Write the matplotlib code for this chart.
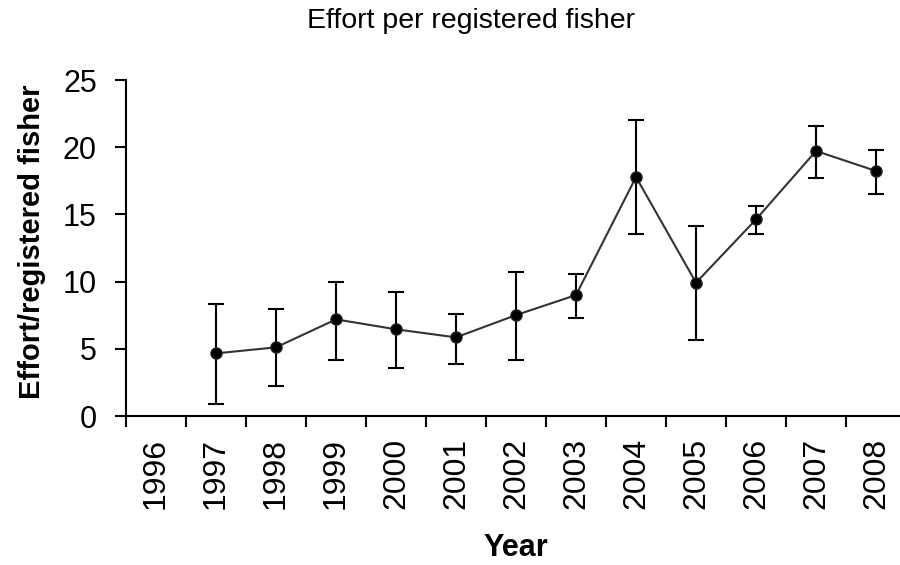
import numpy as np
import matplotlib.pyplot as plt

plt.rcParams['font.family'] = ['Liberation Sans', 'DejaVu Sans']

# Data
years = ['1996', '1997', '1998', '1999', '2000', '2001', '2002',
         '2003', '2004', '2005', '2006', '2007', '2008']
effort = [np.nan, 4.66, 5.11, 7.19, 6.45, 5.85, 7.51, 9.0, 17.78, 9.92, 14.63, 19.72, 18.23]
err_low = [np.nan, 0.92, 2.23, 4.17, 3.57, 3.89, 4.17, 7.32, 13.54, 5.65, 13.54, 17.71, 16.52]
err_high = [np.nan, 8.33, 7.94, 9.99, 9.23, 7.59, 10.71, 10.56, 22.0, 14.14, 15.63, 21.58, 19.79]

x = np.arange(len(years))
y = np.array(effort)
yerr = [y - np.array(err_low), np.array(err_high) - y]

fig = plt.figure(figsize=(9, 5.65), dpi=100)
ax = fig.add_axes([0.14, 0.2637, 0.8667, 0.5947])

ax.plot(x, y, color='#333333', lw=1.5, zorder=2)
ax.errorbar(x, y, yerr=yerr, fmt='none', ecolor='black', elinewidth=1.5,
            capsize=5.5, capthick=1.5, zorder=3)
ax.plot(x, y, 'o', color='black', markersize=8, mec='#222222', zorder=4)

# Category axis with ticks between the years
ax.set_xlim(-0.5, len(years) - 0.5)
ax.set_xticks(np.arange(-0.5, len(years) - 0.5, 1.0))
ax.set_xticklabels([])
ax.set_xticks(x, minor=True)
ax.set_xticklabels(years, minor=True, rotation=90, fontsize=23)
ax.tick_params(axis='x', which='minor', length=0, pad=16)
ax.tick_params(axis='x', which='major', length=8, width=1.5, direction='out')

ax.set_ylim(0, 25)
ax.set_yticks([0, 5, 10, 15, 20, 25])
ax.tick_params(axis='y', length=8, width=1.5, labelsize=22, pad=13)

for s in ['top', 'right']:
    ax.spines[s].set_visible(False)
for s in ['left', 'bottom']:
    ax.spines[s].set_linewidth(1.5)

fig.text(32 / 900, 0.573, 'Effort/registered fisher', rotation=90, ha='center', va='center',
         fontsize=21, fontweight='bold')
fig.text(516 / 900, 0.016, 'Year', ha='center', va='baseline', fontsize=22, fontweight='bold')
fig.text(0.523, 0.9504, 'Effort per registered fisher', ha='center', va='baseline', fontsize=20.5)

fig.savefig('out.png', dpi=100)
